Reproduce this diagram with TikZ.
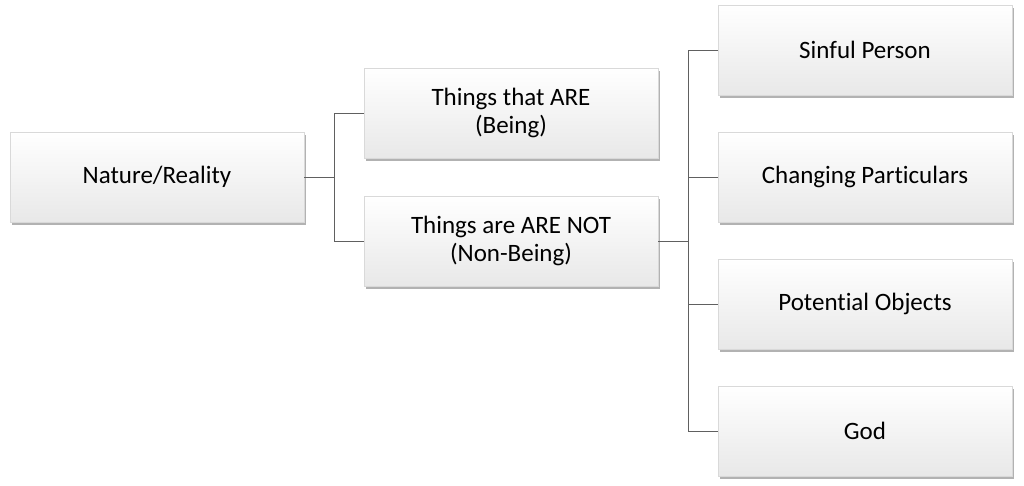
\documentclass[tikz,border=0pt]{standalone}
\usepackage{fontspec}
\setmainfont[Ligatures=NoCommon]{Carlito}
\usetikzlibrary{shadows}
\begin{document}
\begin{tikzpicture}[x=1pt,y=-1pt,
  box/.style={draw=gray!30, line width=0.6pt, top color=white, bottom color=gray!18,
    minimum width=294pt, minimum height=90pt, align=center,
    font=\fontsize{25}{28}\selectfont,
    drop shadow={shadow xshift=2pt, shadow yshift=-3pt, fill=black, opacity=0.3}},
  conn/.style={draw=gray!75!black, line width=0.9pt}]
\useasboundingbox (0,0) rectangle (1024,486);
\node[box] (nat) at (157,177) {Nature/Reality};
\node[box] (are) at (511,113) {Things that ARE\\(Being)};
\node[box] (not) at (511,241) {Things are ARE NOT\\(Non-Being)};
\node[box] (sin) at (865,50) {Sinful Person};
\node[box] (cha) at (865,177) {Changing Particulars};
\node[box] (pot) at (865,304) {Potential Objects};
\node[box] (god) at (865,431) {God};
\coordinate (j1) at (334,177);
\coordinate (j2) at (688,241);
\draw[conn] (nat.east) -- (j1) |- (are.west);
\draw[conn] (j1) |- (not.west);
\draw[conn] (not.east) -- (j2) |- (sin.west);
\draw[conn] (j2) |- (cha.west);
\draw[conn] (j2) |- (pot.west);
\draw[conn] (j2) |- (god.west);
\end{tikzpicture}
\end{document}
